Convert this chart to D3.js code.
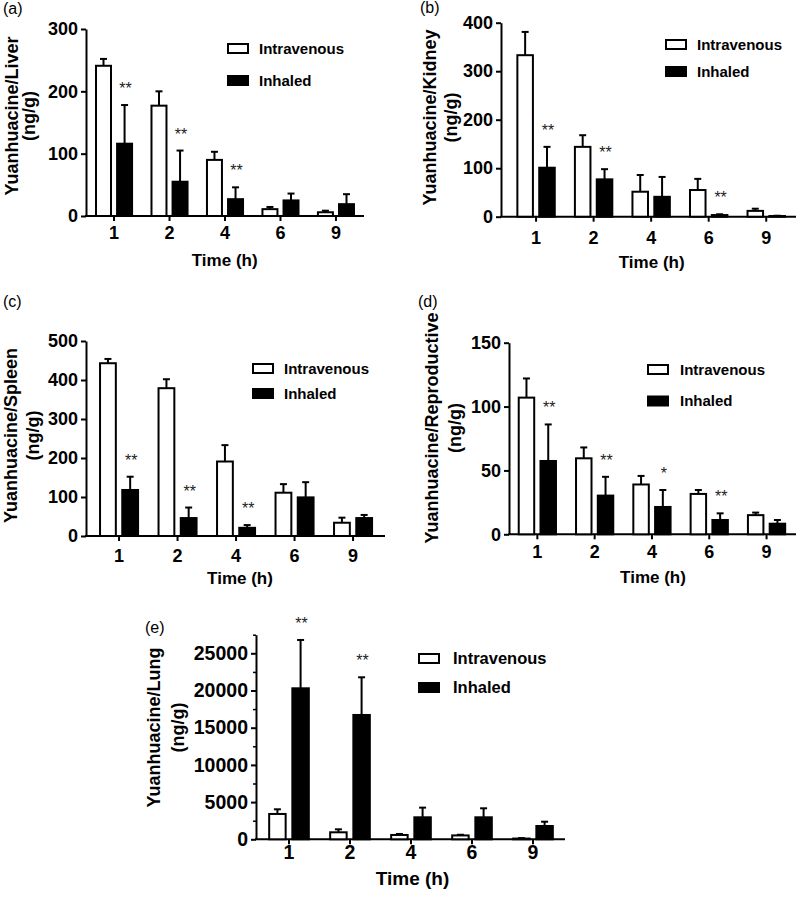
<!DOCTYPE html>
<html>
<head>
<meta charset="utf-8">
<script src="https://cdn.jsdelivr.net/npm/d3@7"></script>
<style>
  html, body { margin: 0; padding: 0; background: #fff; }
  svg { display: block; }
  text { font-family: "Liberation Sans", Arial, Helvetica, sans-serif; fill: #000; }
</style>
</head>
<body>
<svg id="chart" width="800" height="899"></svg>
<script>
// ---------- data ----------
const categories = ["1", "2", "4", "6", "9"];
const seriesNames = ["Intravenous", "Inhaled"];

const liverIV = [241, 177, 90, 11, 6];
const liverIVSD = [11, 23, 13, 3.5, 2.5];
const liverInh = [116, 55, 27, 25, 19];
const liverInhSD = [62, 50, 19, 11, 16];
const liverSig = ["**", "**", "**", "", ""];
const liverTicks = [0, 100, 200, 300];

const kidneyIV = [333, 144, 51.5, 55, 12];
const kidneyIVSD = [48, 24, 34.5, 23, 4.5];
const kidneyInh = [101, 77, 41, 3.4, 1.4];
const kidneyInhSD = [43, 21, 41, 1.6, 0.6];
const kidneySig = ["**", "**", "", "**", ""];
const kidneyTicks = [0, 100, 200, 300, 400];

const spleenIV = [443, 379, 191, 111, 34];
const spleenIVSD = [11, 23, 42, 22, 13];
const spleenInh = [118, 46, 21, 99, 46];
const spleenInhSD = [34, 27, 7, 39, 8];
const spleenSig = ["**", "**", "**", "", ""];
const spleenTicks = [0, 100, 200, 300, 400, 500];

const reproIV = [107, 59.5, 39, 31.6, 15];
const reproIVSD = [15, 8.5, 6.7, 3.1, 2];
const reproInh = [57.4, 30.3, 21.4, 11.2, 8.3];
const reproInhSD = [28.6, 14.7, 13.3, 5.2, 2.9];
const reproSig = ["**", "**", "*", "**", ""];
const reproTicks = [0, 50, 100, 150];

const lungIV = [3405, 941, 582, 520, 100];
const lungIVSD = [627, 403, 135, 90, 60];
const lungInh = [20296, 16711, 2957, 2957, 1788];
const lungInhSD = [6496, 5063, 1299, 1210, 578];
const lungSig = ["**", "**", "", "", ""];
const lungTicks = [0, 5000, 10000, 15000, 20000, 25000];
const lungMinorTicks = [2500, 7500, 12500, 17500, 22500, 27500];

// ---------- panel layout ----------
const panels = [
  { label: "(a)", lx: 3, ly: 14, title: "Yuanhuacine/Liver",
    iv: liverIV, ivSD: liverIVSD, inh: liverInh, inhSD: liverInhSD, sig: liverSig,
    ticks: liverTicks, axisMax: 300, minor: [],
    axX: 86, bx0: 86.3, bx1: 363.7, axEnd: 364, y0: 216, yTopPix: 29,
    t1: 18, t2: 35, tcy: 116, xlB: 23, xtB: 266, xtX: 224.7,
    legX: 227, legY1: 43, legY2: 75, legTX: 259, fsTick: 18, fsTitle: 17, fsLeg: 15 },
  { label: "(b)", lx: 420, ly: 13, title: "Yuanhuacine/Kidney",
    iv: kidneyIV, ivSD: kidneyIVSD, inh: kidneyInh, inhSD: kidneyInhSD, sig: kidneySig,
    ticks: kidneyTicks, axisMax: 400, minor: [],
    axX: 501, bx0: 507.3, bx1: 795, axEnd: 796, y0: 216.7, yTopPix: 22.7,
    t1: 436, t2: 457, tcy: 117.5, xlB: 27, xtB: 268, xtX: 651.7,
    legX: 665, legY1: 39, legY2: 66, legTX: 697, fsTick: 18, fsTitle: 17, fsLeg: 15 },
  { label: "(c)", lx: 3, ly: 307, title: "Yuanhuacine/Spleen",
    iv: spleenIV, ivSD: spleenIVSD, inh: spleenInh, inhSD: spleenInhSD, sig: spleenSig,
    ticks: spleenTicks, axisMax: 500, minor: [],
    axX: 86, bx0: 89.8, bx1: 382.3, axEnd: 385, y0: 536, yTopPix: 341,
    t1: 17, t2: 39, tcy: 435.5, xlB: 26, xtB: 584, xtX: 240,
    legX: 252, legY1: 363, legY2: 388, legTX: 284, fsTick: 18, fsTitle: 17, fsLeg: 15 },
  { label: "(d)", lx: 418, ly: 307, title: "Yuanhuacine/Reproductive",
    iv: reproIV, ivSD: reproIVSD, inh: reproInh, inhSD: reproInhSD, sig: reproSig,
    ticks: reproTicks, axisMax: 150, minor: [],
    axX: 509, bx0: 508.7, bx1: 795.2, axEnd: 796, y0: 534.3, yTopPix: 342.7,
    t1: 438, t2: 461, tcy: 428, xlB: 24, xtB: 583, xtX: 653,
    legX: 647, legY1: 364, legY2: 395.5, legTX: 680, fsTick: 18, fsTitle: 17, fsLeg: 15 },
  { label: "(e)", lx: 145, ly: 633, title: "Yuanhuacine/Lung",
    iv: lungIV, ivSD: lungIVSD, inh: lungInh, inhSD: lungInhSD, sig: lungSig,
    ticks: lungTicks, axisMax: 27500, minor: lungMinorTicks,
    axX: 256, bx0: 258.5, bx1: 563.5, axEnd: 565, y0: 839.3, yTopPix: 653.3,
    t1: 160, t2: 184, tcy: 727.5, xlB: 20, xtB: 885, xtX: 412.5,
    legX: 418, legY1: 653, legY2: 682, legTX: 453, fsTick: 19.5, fsTitle: 19, fsLeg: 16.5 }
];

const svg = d3.select("#chart");

panels.forEach(p => {
  const g = svg.append("g");
  const topTick = p.ticks[p.ticks.length - 1];
  const pxPerUnit = (p.y0 - p.yTopPix) / topTick;
  const y = d3.scaleLinear().domain([0, p.axisMax]).range([p.y0, p.y0 - pxPerUnit * p.axisMax]);
  const x = d3.scaleBand().domain(categories).range([p.bx0, p.bx1]).paddingInner(0.35).paddingOuter(0.175);
  const xs = d3.scaleBand().domain(seriesNames).range([0, x.bandwidth()]).paddingInner(0.289);

  // panel label
  g.append("text").attr("x", p.lx).attr("y", p.ly).attr("font-size", 16).text(p.label);

  // y axis
  const yAx = g.append("g").attr("transform", `translate(${p.axX},0)`)
    .call(d3.axisLeft(y).tickValues(p.ticks).tickSize(5).tickSizeOuter(0).tickPadding(3).tickFormat(d3.format("d")));
  yAx.select(".domain").attr("stroke-width", 2);
  yAx.selectAll(".tick line").attr("stroke-width", 2);
  yAx.selectAll(".tick text").attr("font-size", p.fsTick).attr("font-weight", "bold")
    .style("font-family", "'Liberation Sans', Arial, sans-serif");
  if (p.minor.length) {
    const mAx = g.append("g").attr("transform", `translate(${p.axX},0)`)
      .call(d3.axisLeft(y).tickValues(p.minor).tickSize(3).tickSizeOuter(0).tickFormat(""));
    mAx.select(".domain").remove();
    mAx.selectAll(".tick line").attr("stroke-width", 1.5);
  }

  // x axis
  const xAx = g.append("g").attr("transform", `translate(0,${p.y0})`)
    .call(d3.axisBottom(x).tickSize(5).tickSizeOuter(0));
  xAx.select(".domain").remove();
  xAx.selectAll(".tick line").attr("stroke-width", 2);
  xAx.selectAll(".tick text").attr("font-size", p.fsTick).attr("font-weight", "bold")
    .attr("y", p.xlB).attr("dy", null)
    .style("font-family", "'Liberation Sans', Arial, sans-serif");
  g.append("line").attr("x1", p.axX - 1).attr("x2", p.axEnd)
    .attr("y1", p.y0).attr("y2", p.y0).attr("stroke", "#000").attr("stroke-width", 2);

  // titles
  g.append("text").attr("x", p.xtX).attr("y", p.xtB).attr("text-anchor", "middle")
    .attr("font-size", p.fsTitle).attr("font-weight", "bold").text("Time (h)");
  const yt = g.append("g");
  yt.append("text").attr("transform", `translate(${p.t1},${p.tcy}) rotate(-90)`)
    .attr("text-anchor", "middle").attr("font-size", 18).attr("font-weight", "bold").text(p.title);
  yt.append("text").attr("transform", `translate(${p.t2},${p.tcy}) rotate(-90)`)
    .attr("text-anchor", "middle").attr("font-size", 18).attr("font-weight", "bold").text("(ng/g)");

  // bars
  const rows = [];
  categories.forEach((c, i) => {
    rows.push({ c, s: "Intravenous", v: p.iv[i], sd: p.ivSD[i], sig: "" });
    rows.push({ c, s: "Inhaled", v: p.inh[i], sd: p.inhSD[i], sig: p.sig[i] });
  });
  const bw = xs.bandwidth();
  g.selectAll("rect.bar").data(rows).enter().append("rect")
    .attr("class", "bar")
    .attr("x", d => x(d.c) + xs(d.s))
    .attr("y", d => y(d.v))
    .attr("width", bw)
    .attr("height", d => p.y0 - y(d.v))
    .attr("fill", d => d.s === "Inhaled" ? "#000" : "#fff")
    .attr("stroke", "#000").attr("stroke-width", 2);

  // error bars (upper)
  const eb = g.selectAll("g.err").data(rows).enter().append("g").attr("class", "err");
  eb.append("line")
    .attr("x1", d => x(d.c) + xs(d.s) + bw / 2).attr("x2", d => x(d.c) + xs(d.s) + bw / 2)
    .attr("y1", d => y(d.v)).attr("y2", d => y(d.v + d.sd))
    .attr("stroke", "#000").attr("stroke-width", 2);
  eb.append("line")
    .attr("x1", d => x(d.c) + xs(d.s) + bw / 2 - 3.5).attr("x2", d => x(d.c) + xs(d.s) + bw / 2 + 3.5)
    .attr("y1", d => y(d.v + d.sd)).attr("y2", d => y(d.v + d.sd))
    .attr("stroke", "#000").attr("stroke-width", 2);

  // significance
  g.selectAll("text.sig").data(rows.filter(d => d.sig)).enter().append("text")
    .attr("class", "sig")
    .attr("x", d => x(d.c) + xs(d.s) + bw / 2 + 1)
    .attr("y", d => y(d.v + d.sd) - 11)
    .attr("text-anchor", "middle").attr("font-size", 16).style("fill", "#222")
    .text(d => d.sig);

  // legend
  const leg = g.append("g");
  [[p.legY1, "#fff", seriesNames[0]], [p.legY2, "#000", seriesNames[1]]].forEach(([ly, fill, name]) => {
    leg.append("rect").attr("x", p.legX + 1).attr("y", ly + 1).attr("width", 20).attr("height", 9)
      .attr("fill", fill).attr("stroke", "#000").attr("stroke-width", 2);
    leg.append("text").attr("x", p.legTX).attr("y", ly + 10.5)
      .attr("font-size", p.fsLeg).attr("font-weight", "bold").text(name);
  });
});
</script>
</body>
</html>
